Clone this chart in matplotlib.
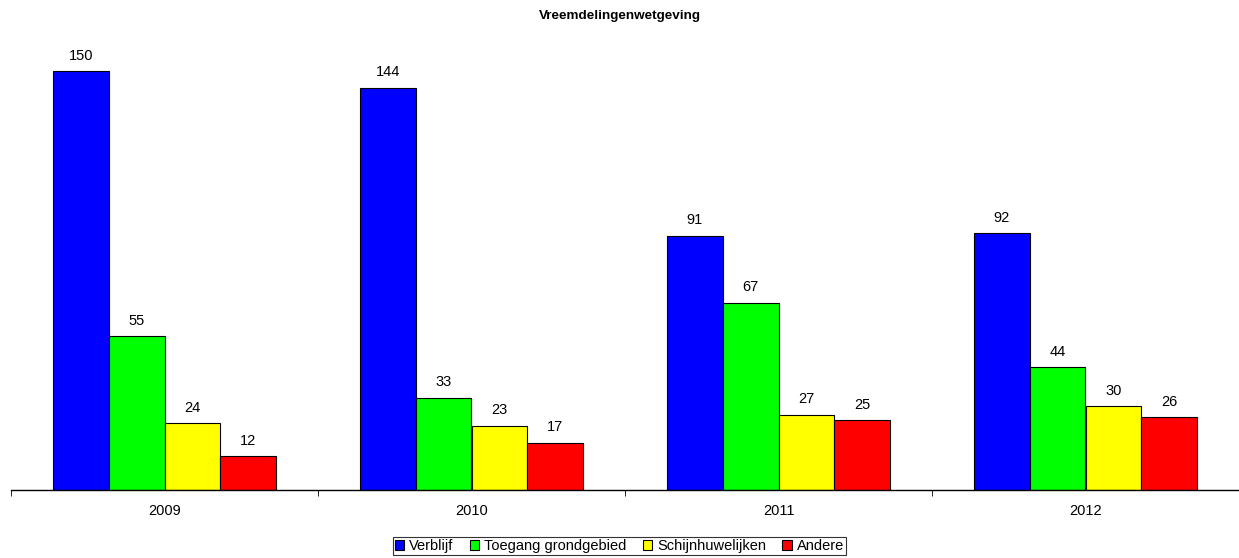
import matplotlib.pyplot as plt
import numpy as np

plt.rcParams['font.family'] = ['Liberation Sans', 'DejaVu Sans']

years = ['2009', '2010', '2011', '2012']
series = ['Verblijf', 'Toegang grondgebied', 'Schijnhuwelijken', 'Andere']
verblijf = [150, 144, 91, 92]
toegang = [55, 33, 67, 44]
schijn = [24, 23, 27, 30]
andere = [12, 17, 25, 26]
colors = ['#0000ff', '#00ff00', '#ffff00', '#ff0000']

fig = plt.figure(figsize=(12.39, 5.58), dpi=100)
ax = fig.add_axes([11 / 1239, 68 / 558, 1228 / 1239, 447 / 558])

x = np.arange(len(years))
w = 0.182
for i, (name, vals) in enumerate(zip(series, [verblijf, toegang, schijn, andere])):
    bars = ax.bar(x + (i - 1.5) * w, vals, w, color=colors[i], edgecolor='black',
                  linewidth=0.8, label=name)
    ax.bar_label(bars, padding=6, fontsize=10.5)

ax.set_xlim(-0.5, 3.5)
ax.set_ylim(0, 160)
ax.set_xticks(x)
ax.set_xticklabels(years, fontsize=10.5)
ax.tick_params(axis='x', length=0, pad=10)
ax.set_xticks(np.arange(-0.5, 3.5, 1), minor=True)
ax.tick_params(axis='x', which='minor', length=4, direction='out')
ax.set_yticks([])
for s in ['top', 'right', 'left']:
    ax.spines[s].set_visible(False)
ax.spines['bottom'].set_linewidth(1)

fig.text(0.5, 1 - 16 / 558, 'Vreemdelingenwetgeving', ha='center', va='center',
         fontsize=9.7, fontweight='bold')

leg = fig.legend(loc='center', bbox_to_anchor=(0.5, 1 - 546 / 558), ncol=4,
                 fontsize=10.5, frameon=True, fancybox=False, edgecolor='black',
                 handlelength=0.65, handleheight=0.65, handletextpad=0.35,
                 columnspacing=1.1, borderpad=0.15, borderaxespad=0)
leg.get_frame().set_linewidth(0.8)

fig.savefig('out.png', dpi=100)
